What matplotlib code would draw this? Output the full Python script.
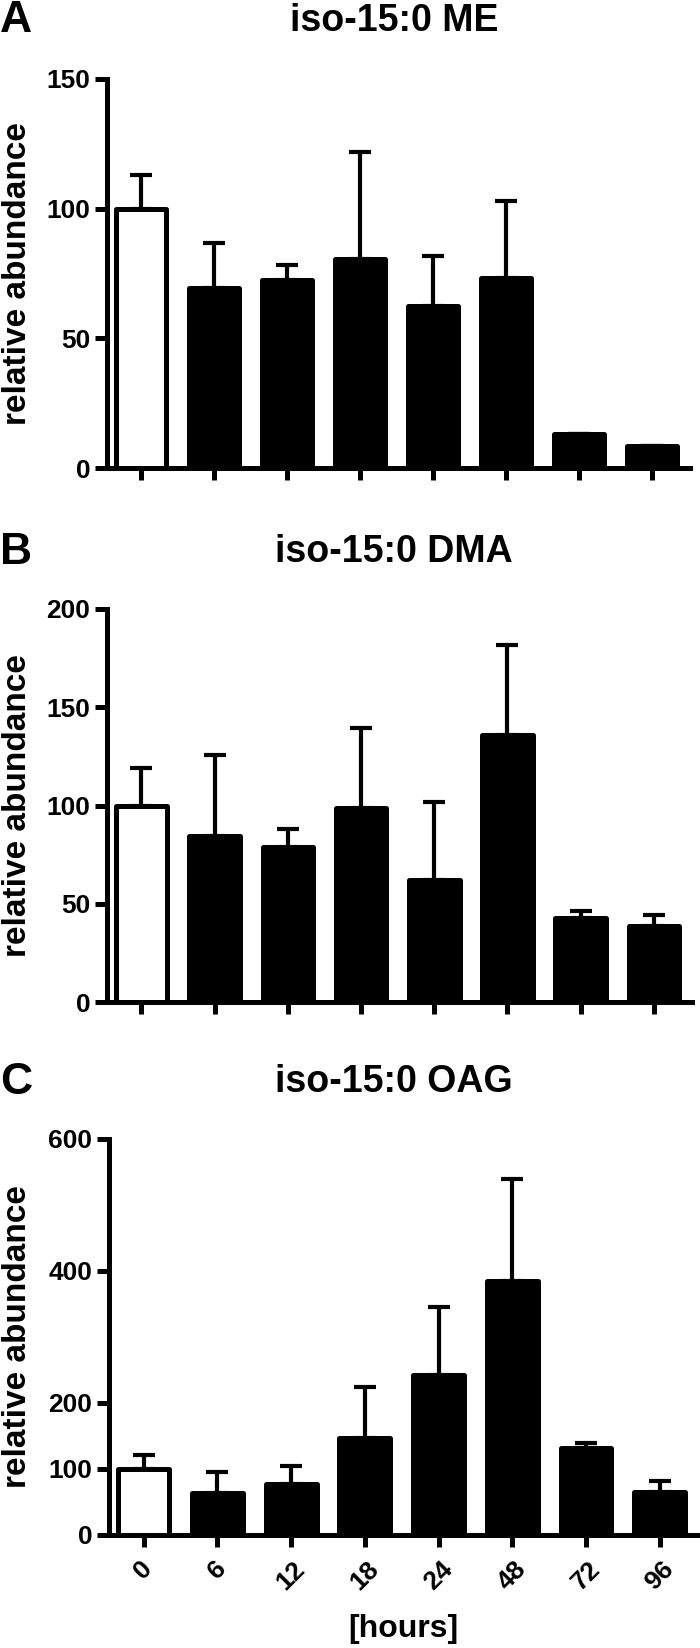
import numpy as np
import matplotlib.pyplot as plt

# data (relative abundance, mean and upper error)
hours = ["0", "6", "12", "18", "24", "48", "72", "96"]

me_mean = [100, 69.5, 72.4, 80.5, 62.6, 73.4, 13.1, 8.4]
me_err = [13, 17.3, 6, 41.4, 19.3, 29.6, 0, 0]

dma_mean = [100, 84.4, 78.7, 98.6, 61.9, 135.7, 43.0, 38.8]
dma_err = [19, 41.5, 9.4, 41, 40, 46.1, 3.1, 5.4]

oag_mean = [100, 63.5, 78, 147.3, 243, 384.8, 131.4, 64.8]
oag_err = [20.6, 31.7, 26.8, 76.7, 101.8, 154.9, 7.6, 16.5]

titles = ["iso-15:0 ME", "iso-15:0 DMA", "iso-15:0 OAG"]
letters = ["A", "B", "C"]
ymaxs = [150, 200, 600]
yticks = [[0, 50, 100, 150], [0, 50, 100, 150, 200], [0, 100, 200, 400, 600]]
means = [me_mean, dma_mean, oag_mean]
errs = [me_err, dma_err, oag_err]

font = ["Liberation Sans", "DejaVu Sans"]
plt.rcParams["font.family"] = font
plt.rcParams["font.weight"] = "bold"

W, H = 700, 1648
fig = plt.figure(figsize=(W / 100, H / 100), dpi=100)

# pixel layout: (left, right, top of axis, zero line, title y)
layout = [(107, 690, 79, 468, 21),
          (107, 692, 609, 1002, 552),
          (109, 698, 1139, 1535, 1082)]
lw = 3.6

x = np.arange(len(hours))
for i in range(3):
    left_px, right_px, top, bottom, ty = layout[i]
    ax = fig.add_axes([left_px / W, (H - bottom) / H,
                       (right_px - left_px) / W, (bottom - top) / H])
    colors = ["white"] + ["black"] * 7
    ax.bar(x, means[i], width=0.69, color=colors, edgecolor="black",
           linewidth=lw, joinstyle="round", zorder=3)
    ax.errorbar(x, means[i], yerr=[np.zeros(8), errs[i]], fmt="none",
                ecolor="black", elinewidth=3.0, capsize=8, capthick=3.0,
                zorder=2)
    ax.set_xlim(-0.47, 7.52)
    ax.set_ylim(0, ymaxs[i])
    ax.set_yticks(yticks[i])
    ax.set_xticks(x)
    ax.spines["top"].set_visible(False)
    ax.spines["right"].set_visible(False)
    for s in ["left", "bottom"]:
        ax.spines[s].set_linewidth(lw)
        ax.spines[s].set_capstyle("projecting")
    ax.tick_params(width=lw, length=8.5, direction="out", labelsize=19)
    if i == 2:
        ax.set_xticklabels(hours, rotation=45, ha="center", fontsize=19,
                           fontweight="bold")
        ax.tick_params(axis="x", pad=7)
        ax.set_xlabel("[hours]", fontweight="bold", fontsize=23)
        ax.xaxis.set_label_coords(0.5, -(1629 - bottom) / (bottom - top))
        ax.xaxis.label.set_va("center")
    else:
        ax.set_xticklabels([])
    ax.set_ylabel("relative abundance", fontweight="bold", fontsize=24)
    ax.yaxis.set_label_coords(-(left_px - 33) / (right_px - left_px), 0.5)
    fig.text(394 / W, 1 - ty / H, titles[i], fontweight="bold",
             fontsize=27, ha="center", va="center")
    fig.text(0, 1 - ty / H, letters[i], fontweight="bold",
             fontsize=32, ha="left", va="center")

fig.savefig("out.png", dpi=100)
